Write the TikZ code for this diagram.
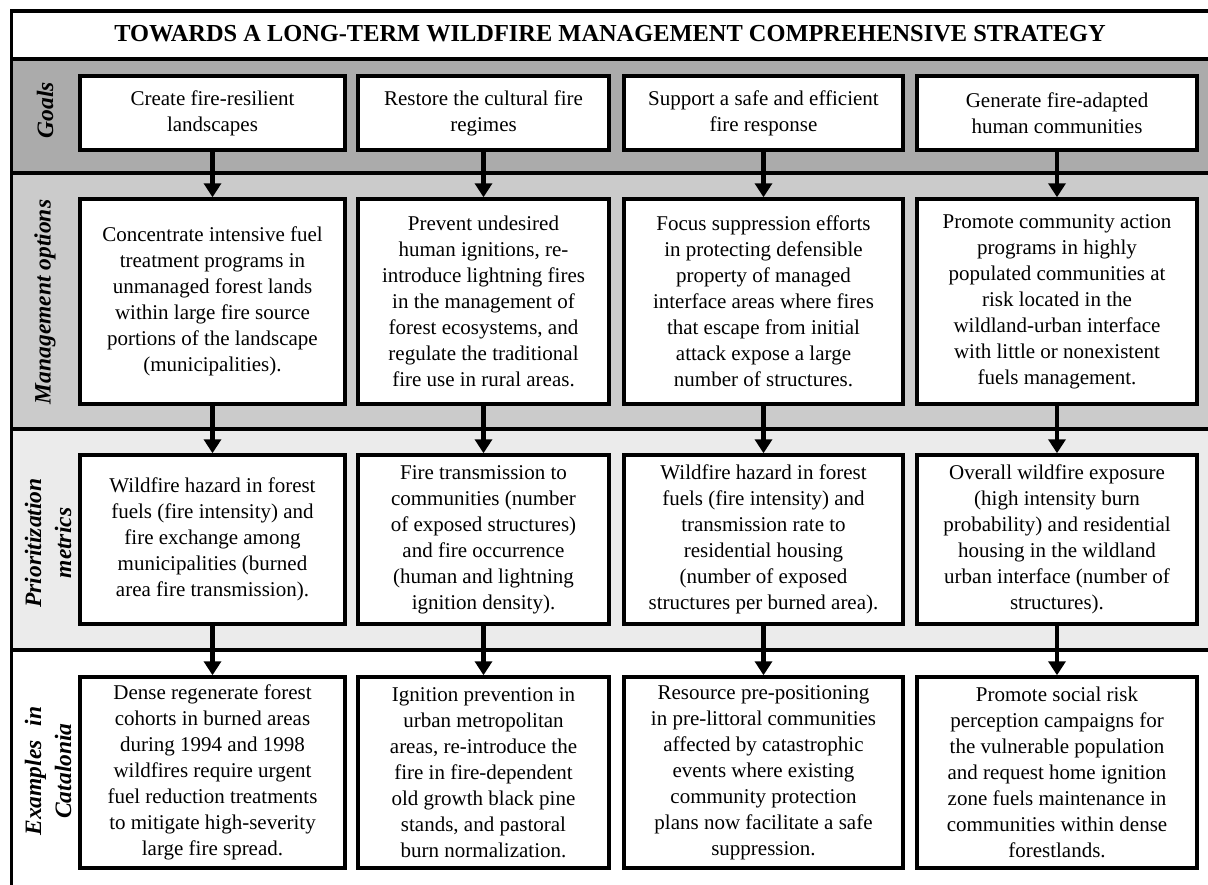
\documentclass[tikz,border=0pt]{standalone}
\usepackage{fontspec}
\setmainfont{Liberation Serif}
\usetikzlibrary{arrows.meta}
\definecolor{goalband}{HTML}{ABABAB}
\definecolor{mgmtband}{HTML}{CBCBCB}
\definecolor{prioband}{HTML}{EBEBEB}
\tikzset{
  box/.style={draw=black, line width=3.5pt, fill=white, align=center, inner sep=2pt,
    font=\fontsize{21}{26}\selectfont},
  colA/.style={minimum width=265pt},
  colB/.style={minimum width=251pt},
  colC/.style={minimum width=279pt},
  colD/.style={minimum width=280pt},
  rowG/.style={minimum height=74pt},
  rowM/.style={minimum height=205pt},
  rowP/.style={minimum height=169pt},
  rowE/.style={minimum height=191pt},
  sepline/.style={line width=3.2pt},
  flow/.style={line width=4.5pt, -{Triangle[width=17pt,length=14pt]}},
  lbl/.style={rotate=90, align=center, inner sep=0pt,
    font=\fontsize{23.5}{30}\selectfont\bfseries\itshape},
  ttl/.style={font=\fontsize{24.4}{28}\selectfont\bfseries, inner sep=0pt}
}
\begin{document}
\begin{tikzpicture}[x=1pt,y=-1pt]
\useasboundingbox (0,0) rectangle (1208,884);
\clip (0,0) rectangle (1208,884);
% bands
\fill[white] (11,11) rectangle (1220,59);
\fill[goalband] (11,59) rectangle (1220,173);
\fill[mgmtband] (11,173) rectangle (1220,429);
\fill[prioband] (11,429) rectangle (1220,650);
\fill[white] (11,650) rectangle (1220,900);
% frame and separators
\draw[sepline] (11.5,900) -- (11.5,11) -- (1220,11);
\draw[sepline] (11.5,59) -- (1220,59);
\draw[sepline] (11.5,173) -- (1220,173);
\draw[sepline] (11.5,429) -- (1220,429);
\draw[sepline] (11.5,650) -- (1220,650);
% title
\node[ttl] (title) at (610,34) {TOWARDS A LONG-TERM WILDFIRE MANAGEMENT COMPREHENSIVE STRATEGY};
% row labels
\node[lbl] (lg) at (45,110) {Goals};
\node[lbl] (lm) at (45,302) {Management options};
\node[lbl] (lp) at (48,543) {Prioritization\\metrics};
\node[lbl] (le) at (48,771) {Examples\hspace{0.35em} in\\Catalonia};
% goals
\node[box,colA,rowG] (g1) at (212.5,113) {Create fire-resilient\\landscapes};
\node[box,colB,rowG] (g2) at (483.5,113) {Restore the cultural fire\\regimes};
\node[box,colC,rowG] (g3) at (763.5,113) {Support a safe and efficient\\fire response};
\node[box,colD,rowG] (g4) at (1057,113) {Generate fire-adapted\\human communities};
% management options
\node[box,colA,rowM] (m1) at (212.5,301.5) {Concentrate intensive fuel\\treatment programs in\\unmanaged forest lands\\within large fire source\\portions of the landscape\\(municipalities).};
\node[box,colB,rowM] (m2) at (483.5,301.5) {Prevent undesired\\human ignitions, re-\\introduce lightning fires\\in the management of\\forest ecosystems, and\\regulate the traditional\\fire use in rural areas.};
\node[box,colC,rowM] (m3) at (763.5,301.5) {Focus suppression efforts\\in protecting defensible\\property of managed\\interface areas where fires\\that escape from initial\\attack expose a large\\number of structures.};
\node[box,colD,rowM] (m4) at (1057,301.5) {Promote community action\\programs in highly\\populated communities at\\risk located in the\\wildland-urban interface\\with little or nonexistent\\fuels management.};
% prioritization metrics
\node[box,colA,rowP] (p1) at (212.5,539.5) {Wildfire hazard in forest\\fuels (fire intensity) and\\fire exchange among\\municipalities (burned\\area fire transmission).};
\node[box,colB,rowP] (p2) at (483.5,539.5) {Fire transmission to\\communities (number\\of exposed structures)\\and fire occurrence\\(human and lightning\\ignition density).};
\node[box,colC,rowP] (p3) at (763.5,539.5) {Wildfire hazard in forest\\fuels (fire intensity) and\\transmission rate to\\residential housing\\(number of exposed\\structures per burned area).};
\node[box,colD,rowP] (p4) at (1057,539.5) {Overall wildfire exposure\\(high intensity burn\\probability) and residential\\housing in the wildland\\urban interface (number of\\structures).};
% examples
\node[box,colA,rowE] (e1) at (212.5,772.5) {Dense regenerate forest\\cohorts in burned areas\\during 1994 and 1998\\wildfires require urgent\\fuel reduction treatments\\to mitigate high-severity\\large fire spread.};
\node[box,colB,rowE] (e2) at (483.5,772.5) {Ignition prevention in\\urban metropolitan\\areas, re-introduce the\\fire in fire-dependent\\old growth black pine\\stands, and pastoral\\burn normalization.};
\node[box,colC,rowE] (e3) at (763.5,772.5) {Resource pre-positioning\\in pre-littoral communities\\affected by catastrophic\\events where existing\\community protection\\plans now facilitate a safe\\suppression.};
\node[box,colD,rowE] (e4) at (1057,772.5) {Promote social risk\\perception campaigns for\\the vulnerable population\\and request home ignition\\zone fuels maintenance in\\communities within dense\\forestlands.};
% arrows
\foreach \i in {1,2,3,4} {
  \draw[flow] (g\i.south) -- (m\i.north);
  \draw[flow] (m\i.south) -- (p\i.north);
  \draw[flow] (p\i.south) -- (e\i.north);
}
\end{tikzpicture}
\end{document}
